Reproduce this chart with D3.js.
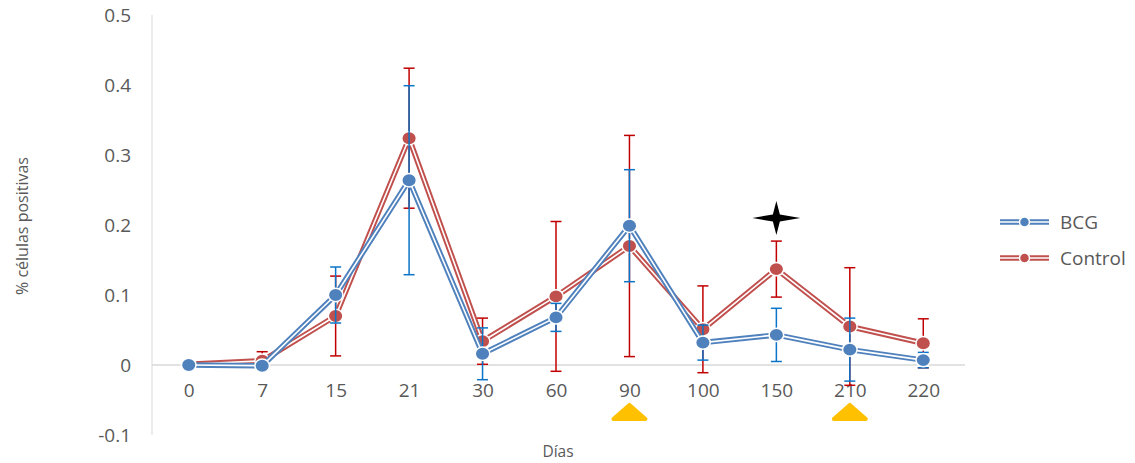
<!DOCTYPE html>
<html>
<head>
<meta charset="utf-8">
<script src="https://cdn.jsdelivr.net/npm/d3@7/dist/d3.min.js"></script>
<style>
  body { margin: 0; background: #fff; }
  text { font-family: "Open Sans", "DejaVu Sans", sans-serif; fill: #595959; }
</style>
</head>
<body>
<svg id="chart" width="1135" height="463"></svg>
<script>
// data
var dias = ["0", "7", "15", "21", "30", "60", "90", "100", "150", "210", "220"];
var bcg = [0, -0.001, 0.1, 0.264, 0.016, 0.068, 0.199, 0.032, 0.043, 0.022, 0.007];
var bcgErr = [0, 0.003, 0.04, 0.135, 0.037, 0.02, 0.08, 0.025, 0.038, 0.045, 0.011];
var control = [0.001, 0.006, 0.07, 0.324, 0.034, 0.098, 0.17, 0.051, 0.137, 0.055, 0.031];
var controlErr = [0, 0.013, 0.057, 0.1, 0.033, 0.107, 0.158, 0.062, 0.04, 0.084, 0.035];
var yTicks = [-0.1, 0, 0.1, 0.2, 0.3, 0.4, 0.5];
var yTickLabels = ["-0.1", "0", "0.1", "0.2", "0.3", "0.4", "0.5"];
var starAt = [{ dia: "150", y: 0.21 }];
var triangles = [{ dia: "90", y: -0.067 }, { dia: "210", y: -0.067 }];

var svg = d3.select("#chart");

var xScale = d3.scalePoint().domain(dias).range([152, 960]).padding(0.5),
  yScale = d3.scaleLinear().domain([-0.1, 0.5]).range([435, 15]);

// axis lines
svg.append("line")
  .attr("x1", 152).attr("x2", 152)
  .attr("y1", yScale(0.5)).attr("y2", yScale(-0.1))
  .style("stroke", "#d9d9d9").style("stroke-width", 1);

svg.append("line")
  .attr("x1", 152).attr("x2", 965)
  .attr("y1", yScale(0)).attr("y2", yScale(0))
  .style("stroke", "#d9d9d9").style("stroke-width", 1.3);

// y tick labels
var yAxis = d3.axisLeft(yScale).tickValues(yTicks).tickSize(0).tickPadding(0)
  .tickFormat(function (d, i) { return yTickLabels[i]; });
var gy = svg.append("g").attr("transform", "translate(131,0)").call(yAxis);
gy.select(".domain").remove();
gy.selectAll("text").style("font-size", "19px").style("fill", "#595959")
  .style("font-family", "'Open Sans', sans-serif");

// x tick labels
var xAxis = d3.axisBottom(xScale).tickSize(0).tickPadding(0);
var gx = svg.append("g").attr("transform", "translate(0,383)").call(xAxis);
gx.select(".domain").remove();
gx.selectAll("text").style("font-size", "19px").style("fill", "#595959")
  .style("font-family", "'Open Sans', sans-serif");

// axis titles
svg.append("text")
  .attr("text-anchor", "middle")
  .attr("transform", "translate(28,226)rotate(-90)")
  .style("font-size", "16px")
  .text("% células positivas");

svg.append("text")
  .attr("x", 558)
  .attr("y", 457)
  .attr("text-anchor", "middle")
  .style("font-size", "15.5px")
  .text("Días");

var line = d3.line()
  .x(function (d) { return xScale(d.dia); })
  .y(function (d) { return yScale(d.v); });

function drawSeries(vals, errs, lineColor, errColor) {
  var pts = dias.map(function (d, i) { return { dia: d, v: vals[i], e: errs[i] }; });
  var g = svg.append("g");

  // error bars
  var eb = g.selectAll(".eb").data(pts.filter(function (d) { return d.e > 0; }))
    .enter().append("g").style("stroke", errColor).style("stroke-width", 1.5);
  eb.append("line")
    .attr("x1", function (d) { return xScale(d.dia); })
    .attr("x2", function (d) { return xScale(d.dia); })
    .attr("y1", function (d) { return yScale(d.v + d.e); })
    .attr("y2", function (d) { return yScale(d.v - d.e); });
  [1, -1].forEach(function (s) {
    eb.append("line")
      .attr("x1", function (d) { return xScale(d.dia) - 5.5; })
      .attr("x2", function (d) { return xScale(d.dia) + 5.5; })
      .attr("y1", function (d) { return yScale(d.v + s * d.e); })
      .attr("y2", function (d) { return yScale(d.v + s * d.e); });
  });

  // double line
  g.append("path").datum(pts).attr("d", line)
    .style("fill", "none").style("stroke", lineColor).style("stroke-width", 5.5)
    .style("stroke-linejoin", "round");
  g.append("path").datum(pts).attr("d", line)
    .style("fill", "none").style("stroke", "#fff").style("stroke-width", 1.6)
    .style("stroke-linejoin", "round");

  g.selectAll("ellipse").data(pts).enter().append("ellipse")
    .attr("cx", function (d) { return xScale(d.dia); })
    .attr("cy", function (d) { return yScale(d.v); })
    .attr("rx", 7.3)
    .attr("ry", 6.7)
    .style("fill", lineColor)
    .style("stroke", "#fff")
    .style("stroke-width", 1.5);
}

drawSeries(control, controlErr, "#c0504d", "#c00000");
drawSeries(bcg, bcgErr, "#4f81bd", "#0a74c8");

// star annotation
svg.selectAll(".star").data(starAt).enter().append("path")
  .attr("transform", function (d) { return "translate(" + xScale(d.dia) + "," + yScale(d.y) + ")"; })
  .attr("d", "M0,-17 L3.5,-3.5 L24,0 L3.5,3.5 L0,17 L-3.5,3.5 L-24,0 L-3.5,-3.5 Z")
  .style("fill", "#000");

// triangles below the axis
svg.selectAll(".tri").data(triangles).enter().append("path")
  .attr("transform", function (d) { return "translate(" + xScale(d.dia) + "," + yScale(d.y) + ")"; })
  .attr("d", "M-16,7 L0,-7 L16,7 Z")
  .style("fill", "#ffc000")
  .style("stroke", "#ffc000")
  .style("stroke-width", 4)
  .style("stroke-linejoin", "round");

// legend
var legend = [
  { name: "BCG", color: "#4f81bd" },
  { name: "Control", color: "#c0504d" }
];
var lg = svg.selectAll(".lg").data(legend).enter().append("g")
  .attr("transform", function (d, i) { return "translate(1000," + (222 + i * 36) + ")"; });
lg.append("line").attr("x1", 0).attr("x2", 49)
  .style("stroke", function (d) { return d.color; }).style("stroke-width", 5.5);
lg.append("line").attr("x1", 0).attr("x2", 49)
  .style("stroke", "#fff").style("stroke-width", 1.6);
lg.append("circle").attr("cx", 24.5).attr("r", 5)
  .style("fill", function (d) { return d.color; })
  .style("stroke", "#fff").style("stroke-width", 1.5);
lg.append("text").attr("x", 60).attr("dy", "0.35em")
  .style("font-size", "19px")
  .text(function (d) { return d.name; });
</script>
</body>
</html>
